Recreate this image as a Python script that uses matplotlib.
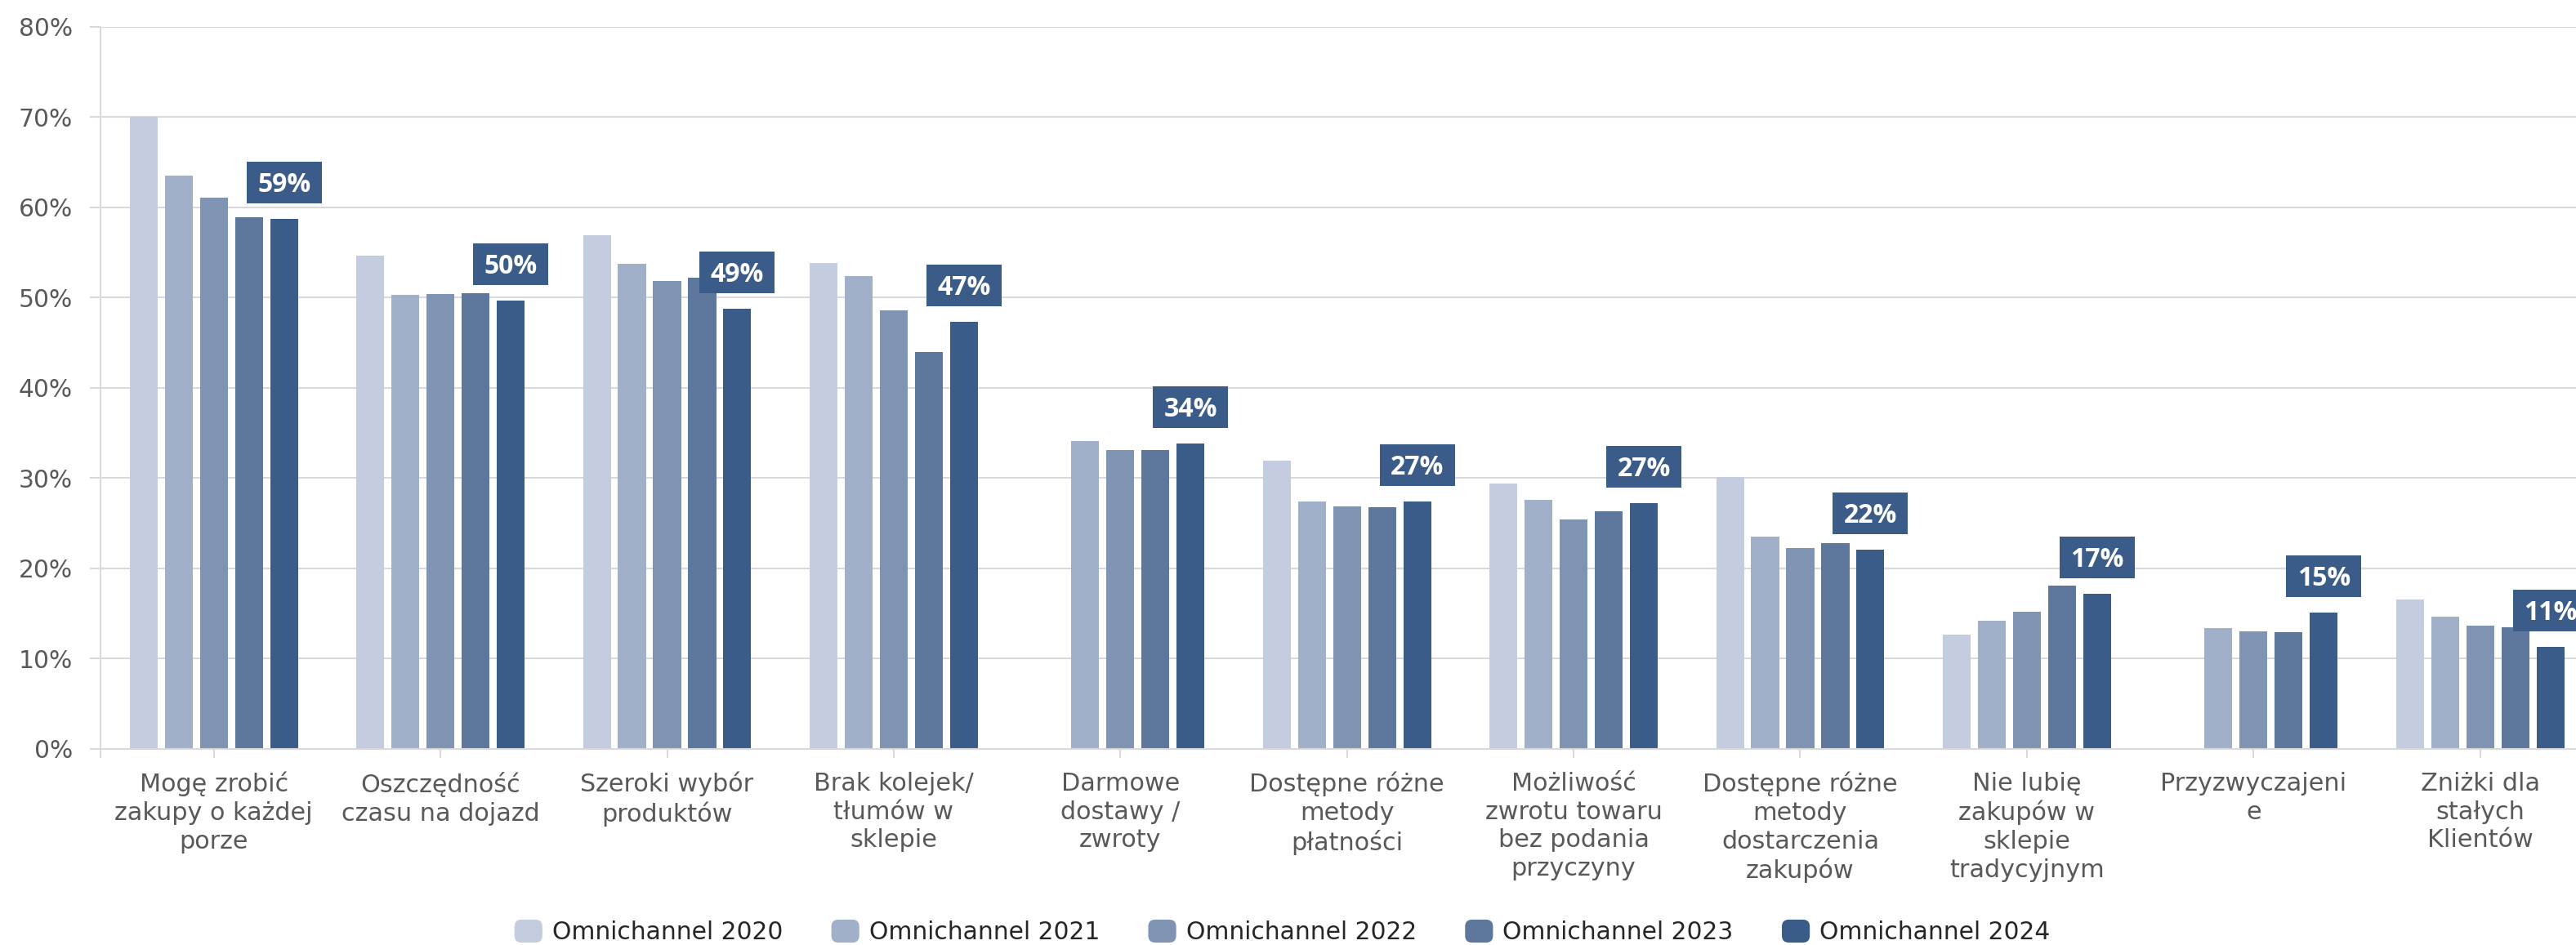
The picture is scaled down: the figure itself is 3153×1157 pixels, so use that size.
import numpy as np
import matplotlib
matplotlib.use("Agg")
import matplotlib.pyplot as plt
from matplotlib.patches import Rectangle, FancyBboxPatch, Patch
from matplotlib.legend_handler import HandlerPatch
from matplotlib.transforms import ScaledTranslation
from matplotlib.ticker import FuncFormatter, MultipleLocator, FixedLocator

plt.rcParams["font.family"] = ["DejaVu Sans"]

categories = [
    "Mogę zrobić\nzakupy o każdej\nporze",
    "Oszczędność\nczasu na dojazd",
    "Szeroki wybór\nproduktów",
    "Brak kolejek/\ntłumów w\nsklepie",
    "Darmowe\ndostawy /\nzwroty",
    "Dostępne różne\nmetody\npłatności",
    "Możliwość\nzwrotu towaru\nbez podania\nprzyczyny",
    "Dostępne różne\nmetody\ndostarczenia\nzakupów",
    "Nie lubię\nzakupów w\nsklepie\ntradycyjnym",
    "Przyzwyczajeni\ne",
    "Zniżki dla\nstałych\nKlientów",
]

series_names = ["Omnichannel 2020", "Omnichannel 2021", "Omnichannel 2022",
                "Omnichannel 2023", "Omnichannel 2024"]

nan = np.nan
omni_2020 = [70.0, 54.6, 56.9, 53.8, nan, 31.9, 29.4, 30.1, 12.7, nan, 16.6]
omni_2021 = [63.5, 50.3, 53.7, 52.4, 34.1, 27.4, 27.6, 23.5, 14.2, 13.4, 14.7]
omni_2022 = [61.1, 50.4, 51.8, 48.6, 33.1, 26.9, 25.4, 22.3, 15.2, 13.0, 13.7]
omni_2023 = [58.9, 50.5, 52.2, 44.0, 33.1, 26.8, 26.3, 22.8, 18.1, 12.9, 13.5]
omni_2024 = [58.7, 49.7, 48.8, 47.3, 33.8, 27.4, 27.2, 22.1, 17.2, 15.1, 11.3]

series = [omni_2020, omni_2021, omni_2022, omni_2023, omni_2024]
colors = ["#C3CDDF", "#A1B0C9", "#7F93B2", "#5D789C", "#3B5C88"]
label_color = "#3B5C88"
text_color = "#595959"
grid_color = "#D9D9D9"

W, H, DPI = 3153, 1157, 100
fig = plt.figure(figsize=(W / DPI, H / DPI), dpi=DPI)

# axes frame in pixels: left spine at 123, category pitch ~277.4 px
left_px, pitch_px = 123, 277.4
bottom_px, top_px = 917, 32.7
ax = fig.add_axes([left_px / W, 1 - bottom_px / H,
                   len(categories) * pitch_px / W, (bottom_px - top_px) / H])

x = np.arange(len(categories))
bar_w = 0.1226
step = 0.155
for i, (vals, col) in enumerate(zip(series, colors)):
    ax.bar(x + (i - 2) * step, np.array(vals) / 100, width=bar_w, color=col,
           label=series_names[i], zorder=2)

ax.set_xlim(-0.5, len(categories) - 0.5)
ax.set_ylim(0, 0.8)
ax.yaxis.set_major_locator(MultipleLocator(0.1))
ax.yaxis.set_major_formatter(FuncFormatter(lambda v, p: f"{v * 100:.0f}%"))
ax.yaxis.grid(True, color=grid_color, linewidth=1.5, zorder=0)
ax.set_axisbelow(True)

ax.set_xticks(x)
ax.set_xticklabels(categories, ha="center", multialignment="center", linespacing=1.25)
ax.xaxis.set_minor_locator(FixedLocator([-0.5]))

for s in ("top", "right"):
    ax.spines[s].set_visible(False)
for s in ("left", "bottom"):
    ax.spines[s].set_color(grid_color)
    ax.spines[s].set_linewidth(1.5)

ax.tick_params(axis="y", length=9.4, width=1.5, color=grid_color, pad=15,
               labelsize=21.4, labelcolor=text_color)
ax.tick_params(axis="x", which="both", length=8, width=1.5, color=grid_color, pad=12,
               labelsize=21.8, labelcolor=text_color)

# value boxes above the 2024 bars
box_w, box_h, box_gap = 0.92, 0.51, 0.19  # inches
for xi, v in zip(x, omni_2024):
    xc = xi + 2 * step
    anchor = fig.dpi_scale_trans + ScaledTranslation(xc, v / 100, ax.transData)
    ax.add_patch(Rectangle((-box_w / 2, box_gap), box_w, box_h, transform=anchor,
                           facecolor=label_color, edgecolor="none", zorder=3, clip_on=False))
    ax.text(0, box_gap + box_h / 2 - 0.03, f"{round(v)}%", transform=anchor,
            ha="center", va="center", color="white", fontsize=23,
            fontweight="bold", family=["Open Sans", "DejaVu Sans"], zorder=4, clip_on=False)


class RoundedHandler(HandlerPatch):
    def create_artists(self, legend, orig_handle, xdescent, ydescent, width, height,
                       fontsize, trans):
        r = 0.3 * min(width, height)
        p = FancyBboxPatch((-xdescent + r, -ydescent + r), width - 2 * r, height - 2 * r,
                           boxstyle=f"round,pad={r},rounding_size={r}",
                           facecolor=orig_handle.get_facecolor(), edgecolor="none",
                           transform=trans)
        return [p]


handles = [Patch(facecolor=c, label=n) for c, n in zip(colors, series_names)]
fig.legend(handles=handles, loc="center", bbox_to_anchor=(1569.5 / W, 1 - 1141 / H),
           ncol=5, frameon=False, fontsize=21.4, labelcolor="#262626",
           handlelength=1.15, handleheight=1.08, handletextpad=0.4, columnspacing=2.0,
           borderpad=0, borderaxespad=0,
           handler_map={Patch: RoundedHandler()})

fig.savefig("out.png", dpi=DPI)
